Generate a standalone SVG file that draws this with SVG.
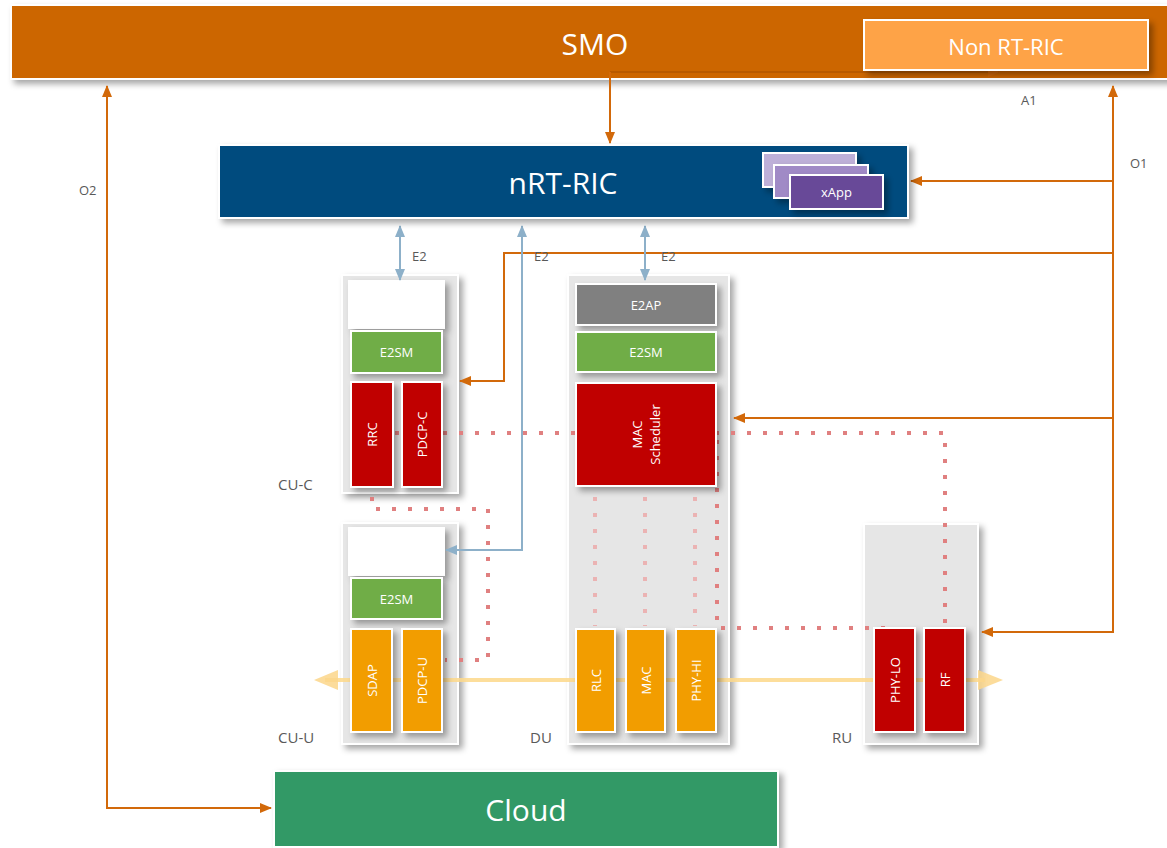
<svg xmlns="http://www.w3.org/2000/svg" width="1167" height="848" viewBox="0 0 1167 848">
<style>
text{font-family:"Open Sans","Noto Sans","Liberation Sans",sans-serif;}
.w{fill:#FFFFFF;}
.lbl{fill:#595959;font-size:13px;}
.nl{fill:#595959;font-size:15px;}
.blk{font-size:13px;fill:#FFFFFF;text-anchor:middle;dominant-baseline:central;}
.box{stroke:#FFFFFF;stroke-width:2;filter:url(#sh);}
.cont{fill:#E6E6E6;stroke:#FFFFFF;stroke-width:2;filter:url(#sh);}
.red{fill:#C00000;}
.org{fill:#F29D00;}
.grn{fill:#70AD47;}
.oc{fill:none;stroke:#D2690A;stroke-width:2;}
.bc{fill:none;stroke:#8DB0C9;stroke-width:2;}
.dot{fill:none;stroke:#E08080;stroke-width:4;stroke-dasharray:4 12;}
.dotl{fill:none;stroke:#EBB3B3;stroke-width:4;stroke-dasharray:4 12;}
</style>
<defs>
<filter id="sh" x="-20%" y="-20%" width="150%" height="160%">
<feDropShadow dx="4" dy="4" stdDeviation="3" flood-color="#000000" flood-opacity="0.35"/>
</filter>
<marker id="ao" markerWidth="12" markerHeight="10" refX="11" refY="5" orient="auto-start-reverse" markerUnits="userSpaceOnUse">
<path d="M0,0 L12,5 L0,10 Z" fill="#D2690A"/>
</marker>
<marker id="ab" markerWidth="12" markerHeight="10" refX="11" refY="5" orient="auto-start-reverse" markerUnits="userSpaceOnUse">
<path d="M0,0 L12,5 L0,10 Z" fill="#8DB0C9"/>
</marker>
</defs>

<rect width="1167" height="848" fill="#FFFFFF"/>

<g id="smo">
<rect x="11" y="5" width="1160" height="74" fill="#CC6600" class="box"/>
<text x="595" y="55" class="w" font-size="30" text-anchor="middle">SMO</text>
</g>

<g id="cloud">
<rect x="274" y="771" width="504" height="76" fill="#339966" class="box"/>
<text x="526" y="821" class="w" font-size="30" text-anchor="middle">Cloud</text>
</g>

<g id="cu-c">
<rect x="342" y="275" width="116" height="218" class="cont"/>
<rect x="349" y="281" width="95" height="47" fill="#FFFFFF" class="box"/>
<rect x="351" y="331" width="91" height="42" class="grn box"/>
<text x="396.5" y="352" class="blk" font-size="14">E2SM</text>
<text x="278" y="490" class="nl">CU-C</text>
</g>

<g id="cu-u">
<rect x="342" y="523" width="116" height="221" class="cont"/>
<rect x="349" y="528" width="95" height="47" fill="#FFFFFF" class="box"/>
<rect x="351" y="578" width="91" height="41" class="grn box"/>
<text x="396.5" y="598.5" class="blk" font-size="14">E2SM</text>
<text x="278" y="743" class="nl">CU-U</text>
</g>

<g id="du">
<rect x="568" y="275" width="161" height="469" class="cont"/>
<rect x="576" y="284" width="140" height="41" fill="#808080" class="box"/>
<text x="646" y="304.5" class="blk" font-size="14">E2AP</text>
<rect x="576" y="332" width="140" height="40" class="grn box"/>
<text x="646" y="352" class="blk" font-size="14">E2SM</text>
<text x="530" y="743" class="nl">DU</text>
</g>

<g id="ru">
<rect x="864" y="524" width="114" height="220" class="cont"/>
<text x="832" y="743" class="nl">RU</text>
</g>

<g id="connectors">
<path d="M325,680 L985,680" stroke="#FDD88A" stroke-width="4" opacity="0.85" fill="none"/>
<polygon points="314,680 338,670 338,690" fill="#FCD68A" opacity="0.85"/>
<polygon points="1003,680 978,670 978,690" fill="#FCD68A" opacity="0.85"/>
<path class="dot" d="M395,433 L945,433 L945,626"/>
<path class="dot" d="M372,497 L372,509 L488,509 L488,660 L445,660"/>
<path class="dotl" d="M595,497 L595,626 M645,497 L645,626 M695,497 L695,626"/>
<path class="dot" d="M717,440 L717,628 L890,628"/>
<path class="oc" d="M107,86 L107,808 L271,808" marker-start="url(#ao)" marker-end="url(#ao)"/>
<path class="oc" d="M1113,86 L1113,632 L982,632" marker-start="url(#ao)" marker-end="url(#ao)"/>
<path class="oc" d="M1113,181 L911,181" marker-end="url(#ao)"/>
<path class="oc" d="M1113,253 L504,253 L504,381 L460,381" marker-end="url(#ao)"/>
<path class="oc" d="M1113,418 L734,418" marker-end="url(#ao)"/>
<path d="M610,72 L999,72" fill="none" stroke="#B85A00" stroke-width="2" marker-end="url(#ao)"/>
<path class="oc" d="M610,72 L610,143" marker-end="url(#ao)"/>
<path class="bc" d="M400,226 L400,280" marker-start="url(#ab)" marker-end="url(#ab)"/>
<path class="bc" d="M645,226 L645,280" marker-start="url(#ab)" marker-end="url(#ab)"/>
<path class="bc" d="M522,226 L522,550 L446,550" marker-start="url(#ab)" marker-end="url(#ab)"/>
<text x="412" y="261" class="lbl">E2</text>
<text x="534" y="261" class="lbl">E2</text>
<text x="661" y="261" class="lbl">E2</text>
<text x="1130" y="168" class="lbl">O1</text>
<text x="1021" y="105" class="lbl">A1</text>
<text x="79" y="195" class="lbl">O2</text>
</g>

<g id="non-rt-ric">
<rect x="864" y="20" width="284" height="50" fill="#FEA346" class="box"/>
<text x="1006" y="55" class="w" font-size="22" text-anchor="middle">Non RT-RIC</text>
</g>

<g id="nrt-ric">
<rect x="219" y="145" width="689" height="73" fill="#004C7E" class="box"/>
<text x="563" y="194" class="w" font-size="30" text-anchor="middle">nRT-RIC</text>
</g>

<g id="xapp">
<rect x="763" y="153" width="93" height="34" fill="#BEB0D8" class="box"/>
<rect x="774" y="165" width="94" height="33" fill="#A08AC6" class="box"/>
<rect x="790" y="175" width="93" height="34" fill="#674A98" class="box"/>
<text x="836.5" y="197" class="w" font-size="13" text-anchor="middle">xApp</text>
</g>

<g id="rrc"><rect x="351" y="382" width="42" height="105" class="red box"/><text class="blk" transform="translate(372,434.5) rotate(-90)">RRC</text></g>
<g id="pdcp-c"><rect x="402" y="382" width="40" height="105" class="red box"/><text class="blk" transform="translate(422,434.5) rotate(-90)">PDCP-C</text></g>

<g id="mac-scheduler">
<rect x="576" y="383" width="140" height="103" class="red box"/>
<text class="blk" transform="translate(646,434.5) rotate(-90)"><tspan x="0" y="-9">MAC</tspan><tspan x="0" y="9">Scheduler</tspan></text>
</g>

<g id="sdap"><rect x="351" y="629" width="41" height="103" class="org box"/><text class="blk" transform="translate(371.5,680.5) rotate(-90)">SDAP</text></g>
<g id="pdcp-u"><rect x="402" y="629" width="40" height="103" class="org box"/><text class="blk" transform="translate(422,680.5) rotate(-90)">PDCP-U</text></g>
<g id="rlc"><rect x="576" y="629" width="39" height="103" class="org box"/><text class="blk" transform="translate(595.5,680.5) rotate(-90)">RLC</text></g>
<g id="mac"><rect x="626" y="629" width="39" height="103" class="org box"/><text class="blk" transform="translate(645.5,680.5) rotate(-90)">MAC</text></g>
<g id="phy-hi"><rect x="676" y="629" width="40" height="103" class="org box"/><text class="blk" transform="translate(696,680.5) rotate(-90)">PHY-HI</text></g>
<g id="phy-lo"><rect x="874" y="628" width="41" height="104" class="red box"/><text class="blk" transform="translate(894.5,680) rotate(-90)">PHY-LO</text></g>
<g id="rf"><rect x="924" y="628" width="41" height="104" class="red box"/><text class="blk" transform="translate(944.5,680) rotate(-90)">RF</text></g>
</svg>
